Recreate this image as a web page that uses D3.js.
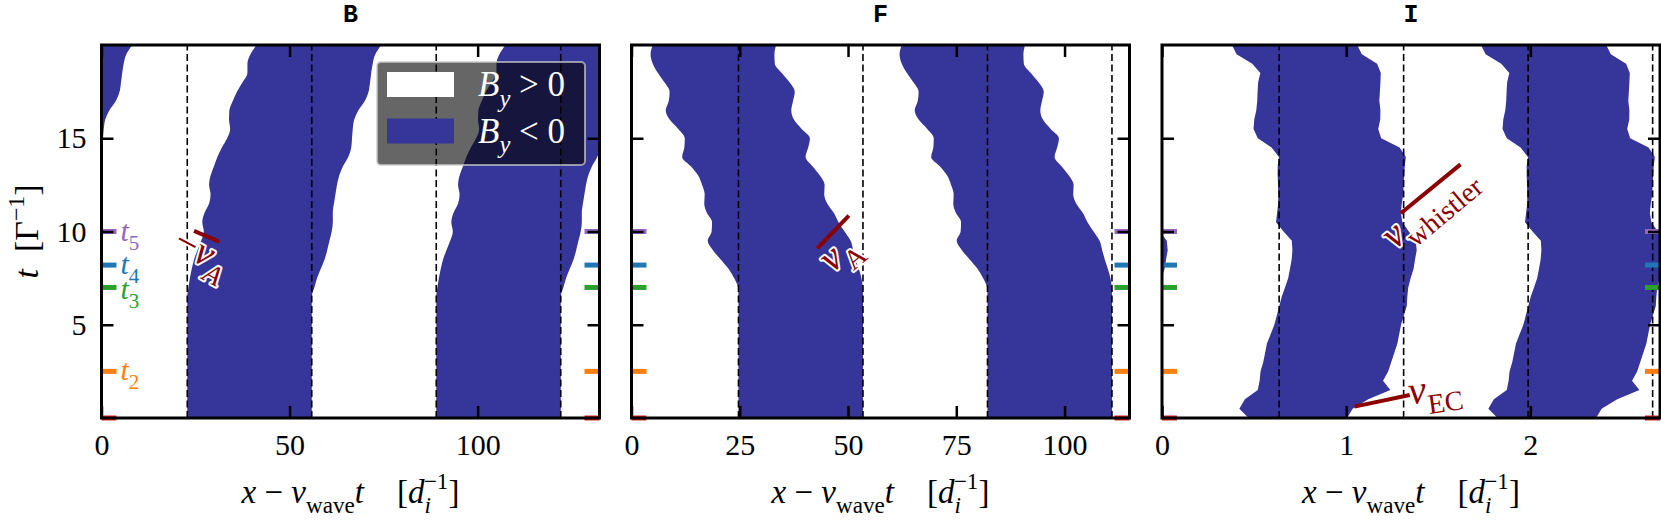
<!DOCTYPE html>
<html>
<head>
<meta charset="utf-8">
<script src="https://cdnjs.cloudflare.com/ajax/libs/d3/7.8.5/d3.min.js"></script>
<style>
  body { margin: 0; background: #fff; }
  svg { display: block; }
</style>
</head>
<body>
<script>
// time levels (in 1/Gamma) at which the band edges were read
const tSteps = [0, 0.5, 1, 1.5, 2, 2.5, 3, 4, 5, 6, 6.5, 7, 7.5, 8, 8.5, 9, 9.5, 10, 10.5, 11,
                11.5, 12, 12.5, 13, 13.5, 14, 14.5, 15, 15.5, 16, 16.5, 17, 17.5, 18, 18.5, 19, 19.5, 20];

// edges of one B_y < 0 band per panel (the band repeats every wavelength)
const bLeft  = [22.8, 22.8, 22.8, 22.8, 22.8, 22.8, 22.8, 22.8, 22.8, 22.8, 22.8, 23.1, 23.5, 24.0, 24.6, 25.5, 26.5, 27.2, 26.8, 27.4,
                28.6, 29.0, 28.6, 29.0, 29.9, 30.8, 32.0, 33.4, 34.2, 33.9, 34.0, 34.9, 36.0, 37.5, 38.8, 38.8, 39.6, 41.2];
const bRight = [55.9, 55.9, 55.9, 55.9, 55.9, 55.9, 55.9, 55.9, 55.9, 55.9, 55.9, 56.6, 57.3, 58.3, 59.3, 60.0, 60.6, 61.2, 61.5, 61.5,
                61.8, 62.2, 62.6, 63.2, 64.2, 65.6, 66.4, 66.6, 66.8, 67.2, 68.3, 70.0, 71.0, 71.4, 71.7, 72.1, 72.8, 74.4];
const fLeft  = [24.7, 24.7, 24.7, 24.7, 24.7, 24.7, 24.7, 24.7, 24.7, 24.7, 24.7, 24.6, 23.7, 22.4, 20.6, 18.8, 17.6, 18.5, 18.6, 17.4,
                16.8, 16.9, 16.3, 15.4, 13.7, 11.7, 12.2, 12.3, 10.8, 8.8, 7.9, 8.6, 8.8, 7.6, 6.1, 4.9, 4.4, 4.9];
const fRight = [53.45, 53.45, 53.45, 53.45, 53.45, 53.45, 53.45, 53.45, 53.45, 53.45, 53.45, 53.4, 53.1, 52.5, 51.8, 51.2, 50.6, 49.2, 47.8, 46.7,
                45.2, 44.5, 44.6, 43.5, 41.8, 40.2, 40.8, 41.2, 39.3, 37.5, 36.9, 37.3, 37.7, 36.5, 34.7, 33.1, 33.0, 33.4];
const iLeft  = [0.47, 0.42, 0.45, 0.52, 0.53, 0.535, 0.55, 0.57, 0.61, 0.637, 0.65, 0.668, 0.685, 0.695, 0.704, 0.708, 0.705, 0.66, 0.619, 0.625,
                0.631, 0.631, 0.63, 0.628, 0.628, 0.635, 0.595, 0.52, 0.497, 0.501, 0.512, 0.517, 0.519, 0.522, 0.534, 0.49, 0.405, 0.38];
const iRight = [1.005, 1.035, 1.12, 1.24, 1.20, 1.228, 1.245, 1.278, 1.298, 1.329, 1.332, 1.337, 1.35, 1.366, 1.374, 1.383, 1.378, 1.34, 1.305, 1.297,
                1.302, 1.31, 1.312, 1.315, 1.318, 1.324, 1.29, 1.19, 1.174, 1.185, 1.186, 1.18, 1.183, 1.186, 1.188, 1.168, 1.085, 1.06];

const panelTitles = ['B', 'F', 'I'];
const xMaxes = [132.4, 115, 2.704];
const wavelengths = [66.2, 57.5, 1.352];
const dashedX = [[22.8, 55.9, 89.0, 122.1], [24.7, 53.45, 82.2, 110.95], [0.636, 1.312, 1.988, 2.664]];
const xTickVals = [[0, 50, 100], [0, 25, 50, 75, 100], [0, 1, 2]];
const yTickVals = [5, 10, 15];

// snapshot times marked on both sides of every panel
const snapTimes  = [0, 2.5, 7, 8.2, 10];
const snapColors = ['#d62728', '#ff7f0e', '#2ca02c', '#1f77b4', '#9467bd'];
const snapIndex  = ['1', '2', '3', '4', '5'];

const edges = [[bLeft, bRight], [fLeft, fRight], [iLeft, iRight]];

const W = 1661, H = 521;
const panelLeft = [101.5, 631.5, 1162];
const panelW = 498, plotTop = 45, plotBottom = 418;
const blue = '#35359a';
const darkred = '#8b0000';
const serif = '"Liberation Serif", "DejaVu Serif", serif';

const svg = d3.select('body').append('svg').attr('width', W).attr('height', H)
    .attr('font-family', serif);
const y = d3.scaleLinear().domain([0, 20]).range([plotBottom, plotTop]);

// text with italic / sub / sup pieces
function richText(sel, parts, size) {
    let shift = 0;
    parts.forEach(p => {
        const ts = sel.append('tspan').text(p.s);
        const target = p.sub ? size * 0.3 : p.sup ? -size * 0.42 : 0;
        if (target - shift !== 0) ts.attr('dy', target - shift);
        shift = target;
        if (p.sub || p.sup) ts.attr('font-size', size * 0.7);
        if (p.it) ts.attr('font-style', 'italic');
        if (p.dx) ts.attr('dx', p.dx);
    });
}

const xLabelParts = [
    {s: 'x', it: true}, {s: ' − '}, {s: 'v', it: true}, {s: 'wave', sub: true}, {s: 't', it: true},
    {s: '\u2003['}, {s: 'd', it: true}, {s: 'i', it: true, sub: true}, {s: '−1', sup: true, dx: -7}, {s: ']'}
];

// slope markers and their labels, in data coordinates
const noteLines = [
    {panel: 0, x: [24.6, 31.3], t: [10.03, 9.45]},
    {panel: 1, x: [42.9, 50.2], t: [9.1, 10.85]},
    {panel: 2, x: [1.297, 1.621], t: [10.98, 13.6]},
    {panel: 2, x: [1.045, 1.345], t: [0.61, 1.23]}
];
const noteTexts = [
    {panel: 0, x: 18.5, t: 9.05, rot: 28, parts: [{s: '−'}, {s: 'v', it: true}, {s: 'A', it: true, sub: true}]},
    {panel: 1, x: 46.3, t: 7.75, rot: -40, parts: [{s: 'v', it: true}, {s: 'A', sub: true}]},
    {panel: 2, x: 1.262, t: 9.0, rot: -40, parts: [{s: 'v', it: true}, {s: 'whistler', sub: true}]},
    {panel: 2, x: 1.346, t: 0.72, rot: -8, parts: [{s: 'v', it: true}, {s: 'EC', sub: true}]}
];

panelTitles.forEach((title, i) => {
    const x0 = panelLeft[i], x1 = x0 + panelW;
    const x = d3.scaleLinear().domain([0, xMaxes[i]]).range([x0, x1]);
    const g = svg.append('g');

    g.append('clipPath').attr('id', 'clip' + i)
        .append('rect').attr('x', x0).attr('y', plotTop).attr('width', panelW).attr('height', plotBottom - plotTop);

    const rows = tSteps.map((t, k) => ({t, l: edges[i][0][k], r: edges[i][1][k]}));
    const plot = g.append('g').attr('clip-path', `url(#clip${i})`);
    plot.append('rect').attr('x', x0).attr('y', plotTop).attr('width', panelW).attr('height', plotBottom - plotTop).attr('fill', '#fff');

    [-1, 0, 1, 2].forEach(k => {
        const shift = k * wavelengths[i];
        const area = d3.area()
            .y(d => y(d.t))
            .x0(d => x(d.l + shift))
            .x1(d => x(d.r + shift))
            .curve(i === 2 ? d3.curveLinear : d3.curveMonotoneY);
        plot.append('path').datum(rows).attr('d', area).attr('fill', blue);
    });

    // dashed wavelength markers
    plot.selectAll('.dash').data(dashedX[i]).enter().append('line')
        .attr('x1', d => x(d)).attr('x2', d => x(d))
        .attr('y1', y(0)).attr('y2', y(20))
        .attr('stroke', '#000').attr('stroke-width', 1.6).attr('stroke-dasharray', '7,3.5');

    // snapshot marks
    snapTimes.forEach((t, k) => {
        [[x0, x0 + 15], [x1 - 15, x1]].forEach(([a, b]) => {
            g.append('line').attr('x1', a).attr('x2', b).attr('y1', y(t)).attr('y2', y(t))
                .attr('stroke', snapColors[k]).attr('stroke-width', 5);
        });
    });

    // axes with inward ticks
    const styleAxis = sel => {
        sel.select('.domain').remove();
        sel.attr('font-family', serif);
        sel.selectAll('.tick line').attr('stroke', '#000').attr('stroke-width', 2.5);
        sel.selectAll('.tick text').attr('font-size', 30).attr('fill', '#000');
    };
    g.append('g').attr('transform', `translate(0,${plotBottom})`)
        .call(d3.axisBottom(x).tickValues(xTickVals[i]).tickSizeInner(-12).tickSizeOuter(0).tickPadding(16).tickFormat(d3.format('d')))
        .call(styleAxis);
    g.append('g').attr('transform', `translate(0,${plotTop})`)
        .call(d3.axisTop(x).tickValues(xTickVals[i]).tickSizeInner(-12).tickSizeOuter(0).tickFormat(''))
        .call(styleAxis);
    g.append('g').attr('transform', `translate(${x0},0)`)
        .call(d3.axisLeft(y).tickValues(yTickVals).tickSizeInner(-12).tickSizeOuter(0).tickPadding(15)
            .tickFormat(i === 0 ? d3.format('d') : ''))
        .call(styleAxis);
    g.append('g').attr('transform', `translate(${x1},0)`)
        .call(d3.axisRight(y).tickValues(yTickVals).tickSizeInner(-12).tickSizeOuter(0).tickFormat(''))
        .call(styleAxis);

    g.append('rect').attr('x', x0).attr('y', plotTop).attr('width', panelW).attr('height', plotBottom - plotTop)
        .attr('fill', 'none').attr('stroke', '#000').attr('stroke-width', 3);

    // title
    g.append('text').attr('x', (x0 + x1) / 2).attr('y', 22).attr('text-anchor', 'middle')
        .attr('font-family', '"Liberation Mono", "DejaVu Sans Mono", monospace').attr('font-weight', 'bold')
        .attr('font-size', 25).text(title);

    // x label
    const xl = g.append('text').attr('x', (x0 + x1) / 2).attr('y', 503).attr('text-anchor', 'middle').attr('font-size', 33);
    richText(xl, xLabelParts, 33);

    // annotations
    noteLines.filter(n => n.panel === i).forEach(n => {
        g.append('line').attr('x1', x(n.x[0])).attr('y1', y(n.t[0])).attr('x2', x(n.x[1])).attr('y2', y(n.t[1]))
            .attr('stroke', darkred).attr('stroke-width', 4);
    });
    noteTexts.filter(n => n.panel === i).forEach(n => {
        const tx = g.append('text')
            .attr('transform', `translate(${x(n.x)},${y(n.t)}) rotate(${n.rot})`)
            .attr('font-size', 40).attr('fill', darkred)
            .attr('stroke', '#fff').attr('stroke-width', 4).attr('stroke-linejoin', 'round')
            .attr('paint-order', 'stroke');
        richText(tx, n.parts, 40);
    });

    if (i === 0) {
        // snapshot labels t2..t5
        snapTimes.forEach((t, k) => {
            if (k === 0) return;
            const tl = g.append('text').attr('x', x0 + 19).attr('y', y(t) + (k === 2 ? 12 : 9))
                .attr('font-size', 30).attr('fill', snapColors[k]);
            richText(tl, [{s: 't', it: true}, {s: snapIndex[k], sub: true}], 30);
        });

        // legend
        const lg = g.append('g');
        lg.append('rect').attr('x', 377).attr('y', 62).attr('width', 208).attr('height', 103).attr('rx', 4)
            .attr('fill', '#000').attr('fill-opacity', 0.6)
            .attr('stroke', '#ccc').attr('stroke-opacity', 0.7).attr('stroke-width', 2);
        const legendItems = [{c: '#fff', op: ' > 0'}, {c: blue, op: ' < 0'}];
        legendItems.forEach((d, k) => {
            lg.append('rect').attr('x', 387).attr('y', 72 + k * 46.5).attr('width', 67).attr('height', 25).attr('fill', d.c);
            const lt = lg.append('text').attr('x', 478).attr('y', 96 + k * 46.5).attr('font-size', 35).attr('fill', '#fff');
            richText(lt, [{s: 'B', it: true}, {s: 'y', it: true, sub: true}, {s: d.op}], 35);
        });
    }
});

// y label
const yl = svg.append('text').attr('transform', `translate(38,${(plotTop + plotBottom) / 2}) rotate(-90)`)
    .attr('text-anchor', 'middle').attr('font-size', 34);
richText(yl, [{s: 't', it: true}, {s: '\u2002[Γ'}, {s: '−1', sup: true}, {s: ']'}], 34);
</script>
</body>
</html>
